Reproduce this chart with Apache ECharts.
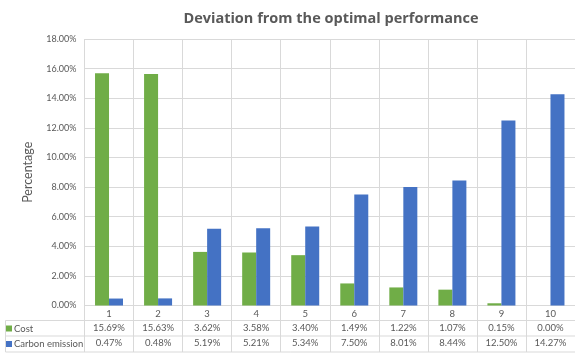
<!DOCTYPE html>
<html>
<head>
<meta charset="utf-8">
<script src="https://cdn.jsdelivr.net/npm/echarts@6/dist/echarts.min.js"></script>
<style>
  html, body { margin: 0; padding: 0; background: #ffffff; }
  #chart { width: 575px; height: 354px; }
</style>
</head>
<body>
<div id="chart"></div>
<script>
// Scenario numbers along the category axis
const scenarios = ['1', '2', '3', '4', '5', '6', '7', '8', '9', '10'];
// Deviation from the optimum, in percent
const costDeviation = [15.69, 15.63, 3.62, 3.58, 3.40, 1.49, 1.22, 1.07, 0.15, 0.00];
const carbonDeviation = [0.47, 0.48, 5.19, 5.21, 5.34, 7.50, 8.01, 8.44, 12.50, 14.27];
// Value axis range (percent)
const yMin = 0;
const yMax = 18;
const yStep = 2;

const seriesNames = ['Cost', 'Carbon emission'];
const pct = v => v.toFixed(2) + '%';

const TEXT = '#595959';
const LINE = '#d9d9d9';
const SMALL_FONT = 'Lato, "Open Sans", sans-serif';

// Grid geometry (pixels) shared by the data table lines
const G = { left: 84.5, right: -4.5, top: 39, bottom: 48.5 };
const W = 575, H = 354;
const axisY = H - G.bottom;
const rowLines = [axisY + 15, axisY + 30.5, axisY + 46.5];

const chart = echarts.init(document.getElementById('chart'), null, { renderer: 'canvas' });

const hiddenAxisBase = {
  type: 'category',
  position: 'bottom',
  axisLine: { show: false },
  axisTick: { show: false },
  splitLine: { show: false }
};

chart.setOption({
  animation: false,
  backgroundColor: '#ffffff',
  title: {
    text: 'Deviation from the optimal performance',
    left: 326,
    top: 6,
    textAlign: 'center',
    textStyle: {
      fontFamily: '"Open Sans", sans-serif',
      fontWeight: 'bold',
      fontSize: 14.5,
      color: TEXT
    }
  },
  legend: {
    orient: 'vertical',
    left: 6,
    top: axisY + 17,
    padding: 0,
    itemWidth: 6,
    itemHeight: 6,
    itemGap: 3.5,
    icon: 'rect',
    selectedMode: false,
    textStyle: {
      fontFamily: SMALL_FONT,
      fontSize: 9.5,
      lineHeight: 12,
      color: TEXT,
      padding: [0, 0, 0, -3]
    },
    data: seriesNames
  },
  grid: { left: G.left, right: G.right, top: G.top, bottom: G.bottom, containLabel: false },
  xAxis: [
    {
      type: 'category',
      data: scenarios,
      position: 'bottom',
      axisLine: { show: true, lineStyle: { color: LINE, width: 1 } },
      axisTick: { show: true, length: 46.5, lineStyle: { color: LINE, width: 1 } },
      splitLine: { show: true, lineStyle: { color: LINE, width: 1 } },
      axisLabel: { margin: 3, fontFamily: SMALL_FONT, fontSize: 9.5, color: TEXT }
    },
    Object.assign({}, hiddenAxisBase, {
      data: costDeviation.map(pct),
      offset: 15,
      axisLabel: { margin: 2, fontFamily: SMALL_FONT, fontSize: 9.5, color: TEXT, interval: 0 }
    }),
    Object.assign({}, hiddenAxisBase, {
      data: carbonDeviation.map(pct),
      offset: 30.5,
      axisLabel: { margin: 2, fontFamily: SMALL_FONT, fontSize: 9.5, color: TEXT, interval: 0 }
    })
  ],
  yAxis: {
    type: 'value',
    min: yMin,
    max: yMax,
    interval: yStep,
    name: 'Percentage',
    nameLocation: 'middle',
    nameGap: 50,
    nameTextStyle: { fontFamily: SMALL_FONT, fontSize: 12.5, color: TEXT },
    axisLine: { show: false },
    axisTick: { show: false },
    splitLine: { show: true, lineStyle: { color: LINE, width: 1 } },
    axisLabel: {
      margin: 8,
      fontFamily: SMALL_FONT,
      fontSize: 9,
      color: TEXT,
      formatter: v => pct(v)
    }
  },
  series: [
    {
      name: seriesNames[0],
      type: 'bar',
      data: costDeviation,
      barWidth: 14,
      barGap: '0%',
      itemStyle: { color: '#70AD47' }
    },
    {
      name: seriesNames[1],
      type: 'bar',
      data: carbonDeviation,
      barWidth: 14,
      barGap: '0%',
      itemStyle: { color: '#4472C4' }
    }
  ],
  graphic: [
    // Data table: row separators and left border
    ...rowLines.map(y => ({
      type: 'line',
      silent: true,
      shape: { x1: 5.5, y1: y, x2: W, y2: y },
      style: { stroke: LINE, lineWidth: 1 }
    })),
    {
      type: 'line',
      silent: true,
      shape: { x1: 5.5, y1: rowLines[0], x2: 5.5, y2: rowLines[2] },
      style: { stroke: LINE, lineWidth: 1 }
    }
  ]
});
</script>
</body>
</html>
